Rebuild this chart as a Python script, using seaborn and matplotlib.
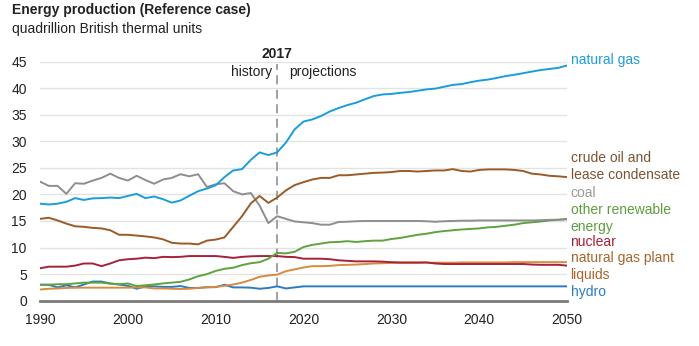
import numpy as np
import pandas as pd
import matplotlib
matplotlib.use("Agg")
import matplotlib.pyplot as plt
import seaborn as sns

# ---- data (quadrillion Btu) ----
years = list(range(1990, 2051))

natural_gas = [18.25, 18.1, 18.25, 18.6, 19.3, 18.95, 19.25, 19.3, 19.4, 19.3,
               19.7, 20.1, 19.3, 19.6, 19.1, 18.45, 18.85, 19.75, 20.6, 21.1,
               21.7, 23.25, 24.5, 24.75, 26.5, 27.9, 27.4, 27.9, 29.75, 32.25,
               33.7, 34.1, 34.75, 35.6, 36.25, 36.8, 37.25, 37.9, 38.5, 38.8,
               38.9, 39.1, 39.25, 39.5, 39.75, 39.9, 40.25, 40.6, 40.75, 41.1,
               41.4, 41.6, 41.9, 42.25, 42.5, 42.8, 43.1, 43.4, 43.6, 43.8, 44.25]

crude_oil = [15.4, 15.6, 15.1, 14.5, 14.0, 13.9, 13.7, 13.6, 13.25, 12.4,
             12.4, 12.25, 12.1, 11.9, 11.55, 10.9, 10.75, 10.75, 10.6, 11.3,
             11.5, 11.9, 13.9, 15.9, 18.3, 19.7, 18.4, 19.4, 20.75, 21.75,
             22.3, 22.8, 23.1, 23.1, 23.6, 23.6, 23.75, 23.9, 24.05, 24.1,
             24.2, 24.4, 24.4, 24.3, 24.4, 24.5, 24.5, 24.75, 24.4, 24.3,
             24.6, 24.7, 24.7, 24.7, 24.6, 24.4, 23.9, 23.75, 23.5, 23.4, 23.25]

coal = [22.4, 21.6, 21.6, 20.1, 22.1, 22.0, 22.6, 23.1, 23.9, 23.1,
        22.6, 23.5, 22.7, 22.0, 22.8, 23.1, 23.8, 23.4, 23.8, 21.4,
        21.9, 22.1, 20.6, 20.0, 20.25, 17.9, 14.6, 15.9, 15.4, 14.9,
        14.75, 14.6, 14.3, 14.3, 14.8, 14.85, 14.95, 15.0, 15.0, 15.0,
        15.0, 15.0, 15.0, 15.0, 14.95, 14.85, 14.95, 15.0, 15.05, 15.05,
        15.1, 15.1, 15.1, 15.1, 15.1, 15.1, 15.1, 15.15, 15.2, 15.25, 15.3]

other_renewable = [3.0, 3.0, 3.1, 3.1, 3.25, 3.4, 3.4, 3.4, 3.2, 3.1,
                   3.25, 2.75, 2.9, 3.05, 3.25, 3.4, 3.55, 4.0, 4.6, 5.0,
                   5.6, 6.0, 6.2, 6.7, 7.05, 7.25, 7.9, 9.0, 8.9, 9.2,
                   10.1, 10.5, 10.75, 11.0, 11.05, 11.2, 11.05, 11.2, 11.3, 11.3,
                   11.6, 11.8, 12.1, 12.4, 12.6, 12.9, 13.1, 13.25, 13.4, 13.5,
                   13.6, 13.8, 13.9, 14.1, 14.3, 14.6, 14.75, 14.9, 15.1, 15.2, 15.4]

nuclear = [6.1, 6.4, 6.4, 6.4, 6.6, 7.0, 7.0, 6.5, 7.0, 7.6,
           7.8, 7.9, 8.1, 8.0, 8.25, 8.2, 8.25, 8.4, 8.4, 8.4,
           8.4, 8.25, 8.05, 8.25, 8.35, 8.4, 8.4, 8.4, 8.25, 8.2,
           7.9, 7.9, 7.9, 7.8, 7.6, 7.5, 7.4, 7.4, 7.4, 7.35,
           7.25, 7.2, 7.2, 7.2, 7.2, 7.0, 6.9, 6.9, 6.9, 6.9,
           6.9, 6.9, 6.9, 6.9, 6.9, 6.9, 6.8, 6.75, 6.75, 6.75, 6.6]

ngpl = [2.1, 2.25, 2.3, 2.4, 2.45, 2.45, 2.45, 2.45, 2.45, 2.45,
        2.45, 2.5, 2.5, 2.3, 2.3, 2.25, 2.2, 2.25, 2.4, 2.5,
        2.6, 2.8, 3.05, 3.4, 3.9, 4.5, 4.75, 4.9, 5.55, 5.9,
        6.25, 6.5, 6.5, 6.55, 6.7, 6.75, 6.8, 6.9, 7.0, 7.05,
        7.1, 7.1, 7.1, 7.1, 7.15, 7.15, 7.15, 7.15, 7.2, 7.2,
        7.2, 7.2, 7.2, 7.2, 7.25, 7.25, 7.25, 7.25, 7.25, 7.25, 7.25]

hydro = [3.0, 3.0, 2.5, 2.9, 2.5, 3.05, 3.6, 3.6, 3.25, 3.05,
         2.8, 2.25, 2.7, 2.7, 2.6, 2.6, 2.75, 2.4, 2.4, 2.55,
         2.55, 3.0, 2.5, 2.5, 2.45, 2.25, 2.4, 2.7, 2.3, 2.5,
         2.7, 2.7, 2.7, 2.7, 2.7, 2.7, 2.7, 2.7, 2.7, 2.7,
         2.7, 2.7, 2.7, 2.7, 2.7, 2.7, 2.7, 2.7, 2.7, 2.7,
         2.7, 2.7, 2.7, 2.7, 2.7, 2.7, 2.7, 2.7, 2.7, 2.7, 2.7]

series_names = ["natural gas", "crude oil", "coal", "other renewable",
                "nuclear", "ngpl", "hydro"]
line_colors = ["#1a9edb", "#9a5b27", "#8e8e8e", "#5ea33f",
               "#a8213a", "#d98a3c", "#2a7bc2"]

# right-hand labels: text, y position (data units), colour
labels = [
    ("natural gas", 45.3, "#1a9edb"),
    ("crude oil and\nlease condensate", 25.25, "#7d5431"),
    ("coal", 20.25, "#9a9a9a"),
    ("other renewable\nenergy", 15.5, "#5e9e3e"),
    ("nuclear", 11.0, "#a61f36"),
    ("natural gas plant\nliquids", 6.4, "#a8652c"),
    ("hydro", 1.65, "#2a7bc2"),
]

xticks = [1990, 2000, 2010, 2020, 2030, 2040, 2050]
yticks = [0, 5, 10, 15, 20, 25, 30, 35, 40, 45]

frames = []
for name, vals in zip(series_names,
                      [natural_gas, crude_oil, coal, other_renewable,
                       nuclear, ngpl, hydro]):
    frames.append(pd.DataFrame({"year": years, "value": vals, "series": name}))
df = pd.concat(frames, ignore_index=True)

# ---- figure ----
sns.set_theme(style="white")
plt.rcParams["font.family"] = ["Liberation Sans", "DejaVu Sans"]

FS = 10

fig = plt.figure(figsize=(6.99, 3.46), dpi=100)
ax = fig.add_axes([40 / 699, 45.3 / 346, (567 - 40) / 699, (300.7 - 61.5) / 346])

for y in yticks[1:]:
    ax.axhline(y, color="#e3e3e3", lw=1.0, zorder=0)

sns.lineplot(data=df, x="year", y="value", hue="series",
             hue_order=series_names[::-1],
             palette=dict(zip(series_names, line_colors)),
             linewidth=1.4, legend=False, ax=ax, zorder=3)

ax.set_xlim(1990, 2050)
ax.set_ylim(0, 45)
ax.set_xticks(xticks)
ax.set_yticks(yticks)
ax.set_xlabel("")
ax.set_ylabel("")
for s in ["top", "right", "left"]:
    ax.spines[s].set_visible(False)
ax.spines["bottom"].set_color("#7a7a7a")
ax.spines["bottom"].set_linewidth(2.0)
ax.spines["bottom"].set_zorder(4)
ax.tick_params(axis="x", length=4, width=1.0, color="#7a7a7a",
               labelsize=FS, labelcolor="#222222", pad=5)
ax.tick_params(axis="y", length=0, labelsize=FS, labelcolor="#222222", pad=9.5)

# history / projections divider
ax.plot([2017, 2017], [0, 44.6], color="#9a9a9a", lw=1.3,
        ls=(0, (5, 3)), zorder=2, clip_on=False)
ax.text(2017, 46.4, "2017", ha="center", va="center", fontsize=FS,
        fontweight="bold", color="#222222", clip_on=False)
ax.text(2016.4, 43.1, "history", ha="right", va="center", fontsize=FS,
        color="#222222")
ax.text(2018.4, 43.1, "projections", ha="left", va="center", fontsize=FS,
        color="#222222")

for text, y, c in labels:
    ax.text(2050.4, y, text, ha="left", va="center", fontsize=FS,
            color=c, linespacing=1.25, clip_on=False)

fig.text(12 / 699, 1 - 10 / 346, "Energy production (Reference case)",
         ha="left", va="center", fontsize=FS, fontweight="bold",
         color="#222222")
fig.text(12 / 699, 1 - 29 / 346, "quadrillion British thermal units",
         ha="left", va="center", fontsize=FS, color="#222222")

fig.savefig("out.png", dpi=100)
